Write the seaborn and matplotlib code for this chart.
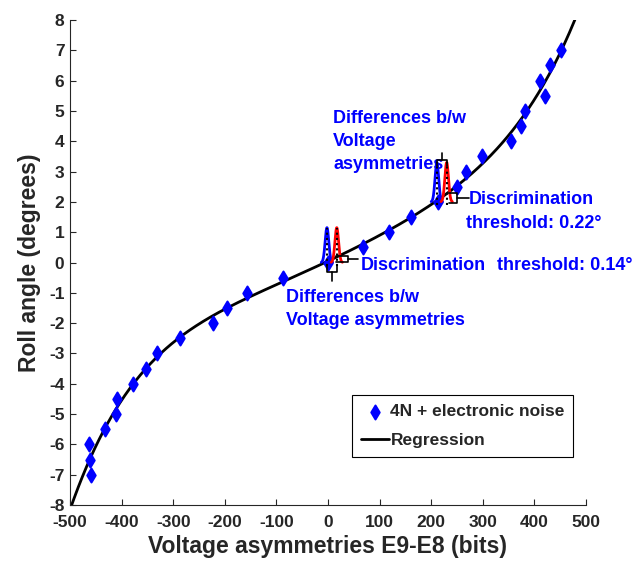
import numpy as np
import pandas as pd
import matplotlib
matplotlib.use("Agg")
import matplotlib.pyplot as plt
import seaborn as sns

# Measured roll angle against the E9-E8 voltage asymmetry
voltage_bits = [-459, -461, -464, -432, -410, -409, -378, -352, -331, -287,
                -223, -196, -156, -88, 0, 68, 119, 160, 213, 251,
                267, 298, 355, 375, 381, 420, 411, 430, 452]
roll_deg = [-7.0, -6.5, -6.0, -5.5, -5.0, -4.5, -4.0, -3.5, -3.0, -2.5,
            -2.0, -1.5, -1.0, -0.5, 0.0, 0.5, 1.0, 1.5, 2.0, 2.5,
            3.0, 3.5, 4.0, 4.5, 5.0, 5.5, 6.0, 6.5, 7.0]

x_ticks = [-500, -400, -300, -200, -100, 0, 100, 200, 300, 400, 500]
y_ticks = [-8, -7, -6, -5, -4, -3, -2, -1, 0, 1, 2, 3, 4, 5, 6, 7, 8]

# Response distributions drawn at two operating points (roll angle, blue/red centres, peak height)
dist_levels = [0.0, 2.0]
dist_blue = [-2, 211]
dist_red = [17, 230]
dist_peak = [1.15, 1.3]

sns.set_style("ticks")
plt.rcParams["font.family"] = ["Liberation Sans", "DejaVu Sans"]
plt.rcParams["font.weight"] = "bold"
plt.rcParams["axes.unicode_minus"] = False

fig = plt.figure(figsize=(6.44, 5.61), dpi=100)
ax = fig.add_axes([0.1087, 0.0998, 0.8012, 0.8645])

df = pd.DataFrame({"volt": voltage_bits, "roll": roll_deg})

# Polynomial regression through the measurements
coef = np.polyfit(df["volt"], df["roll"], 5)
xfit = np.linspace(-500, 500, 500)
fit = pd.DataFrame({"volt": xfit, "roll": np.polyval(coef, xfit)})

sns.scatterplot(data=df, x="volt", y="roll", ax=ax, marker="d", s=50,
                color="#0000ff", edgecolor="#0000ff", linewidth=1.5,
                label="4N + electronic noise", zorder=3)
sns.lineplot(data=fit, x="volt", y="roll", ax=ax, color="black", lw=2.0,
             label="Regression", zorder=2)

# Schematic response distributions
blue = "#0000ff"
sig = 3.5
for lvl, cb, cr, pk in zip(dist_levels, dist_blue, dist_red, dist_peak):
    for c, col in ((cb, blue), (cr, "red")):
        gx = np.linspace(c - 11, c + 11, 200)
        gy = lvl + pk * np.exp(-0.5 * ((gx - c) / sig) ** 2)
        ax.plot(gx, gy, color=col, lw=2.0, zorder=4)
        ax.plot([c, c], [lvl - 0.1, lvl + pk], color="black", lw=1.5,
                ls=(0, (1, 1.5)), zorder=5)

# Brackets for the differences between voltage asymmetries
mid0 = (dist_blue[0] + dist_red[0]) / 2
ax.plot([dist_blue[0], dist_blue[0], dist_red[0], dist_red[0]],
        [-0.1, -0.3, -0.3, -0.1], color="black", lw=1.2, zorder=5)
ax.plot([mid0, mid0], [-0.3, -0.62], color="black", lw=1.2, zorder=5)
mid2 = (dist_blue[1] + dist_red[1]) / 2
ax.plot([dist_blue[1], dist_blue[1], dist_red[1], dist_red[1]],
        [3.2, 3.38, 3.38, 3.2], color="black", lw=1.2, zorder=5)
ax.plot([mid2, mid2], [3.38, 3.62], color="black", lw=1.2, zorder=5)

# Brackets for the discrimination thresholds
ax.plot([16, 38, 38, 16], [0.21, 0.21, 0.02, 0.02], color="black", lw=1.2, zorder=5)
ax.plot([38, 58], [0.12, 0.12], color="black", lw=1.2, zorder=5)
ax.plot([234, 250, 250, 234], [2.29, 2.29, 1.96, 1.96], color="black", lw=1.2, zorder=5)
ax.plot([250, 274], [2.12, 2.12], color="black", lw=1.2, zorder=5)

tkw = dict(color=blue, fontsize=13, fontweight="bold", va="center", ha="left")
ax.text(10, 4.74, "Differences b/w", **tkw)
ax.text(10, 3.98, "Voltage", **tkw)
ax.text(10, 3.24, "asymmetries", **tkw)
ax.text(272, 2.09, "Discrimination", **tkw)
ax.text(268, 1.30, "threshold: 0.22°", **tkw)
ax.text(64, -0.09, "Discrimination", **tkw)
ax.text(328, -0.09, "threshold: 0.14°", **tkw)
ax.text(-81, -1.14, "Differences b/w", **tkw)
ax.text(-81, -1.90, "Voltage asymmetries", **tkw)

ax.set_xlim(-500, 500)
ax.set_ylim(-8, 8)
ax.set_xticks(x_ticks)
ax.set_yticks(y_ticks)
ax.set_xlabel("Voltage asymmetries E9-E8 (bits)", fontsize=16.5,
              fontweight="bold", color="#262626", labelpad=4)
ax.set_ylabel("Roll angle (degrees)", fontsize=16.5, fontweight="bold",
              color="#262626", labelpad=6)
ax.tick_params(direction="in", length=4, width=0.8, colors="#262626",
               labelsize=12.5)
ax.tick_params(axis="x", pad=7)
ax.tick_params(axis="y", pad=4)
for lab in ax.get_xticklabels() + ax.get_yticklabels():
    lab.set_fontweight("bold")
for s in ("top", "right"):
    ax.spines[s].set_visible(False)
for s in ("left", "bottom"):
    ax.spines[s].set_color("#262626")
    ax.spines[s].set_linewidth(0.8)

leg = ax.legend(loc="lower left", bbox_to_anchor=(0.547, 0.099),
                fancybox=False, edgecolor="black", framealpha=1,
                fontsize=12.5, handlelength=1.6, handletextpad=0.1,
                borderpad=0.5, labelspacing=0.8, borderaxespad=0)
leg.get_frame().set_linewidth(0.8)
for t in leg.get_texts():
    t.set_fontweight("bold")

fig.savefig("out.png", dpi=100)
